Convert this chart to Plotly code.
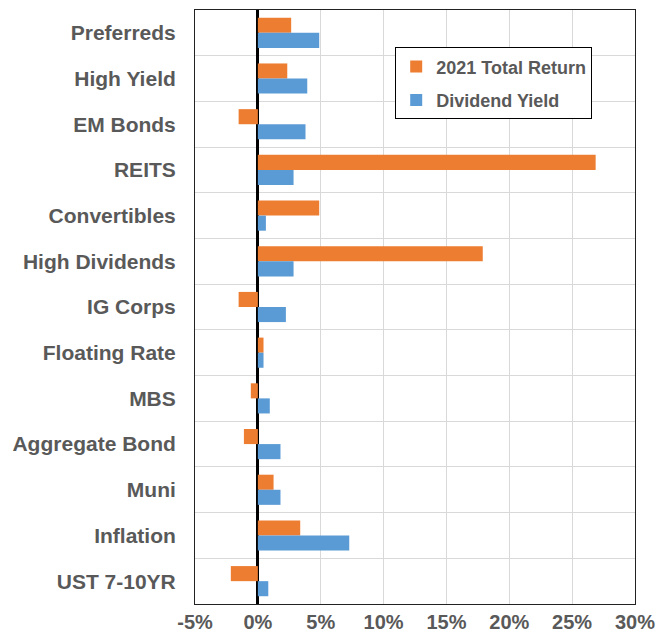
import plotly.graph_objs as go

categories = [
    'Preferreds', 'High Yield', 'EM Bonds', 'REITS', 'Convertibles',
    'High Dividends', 'IG Corps', 'Floating Rate', 'MBS', 'Aggregate Bond',
    'Muni', 'Inflation', 'UST 7-10YR',
]
total_return_2021 = [2.65, 2.34, -1.53, 26.87, 4.88, 17.89, -1.53, 0.45, -0.56, -1.11, 1.25, 3.37, -2.15]
dividend_yield = [4.88, 3.93, 3.79, 2.84, 0.64, 2.84, 2.23, 0.45, 0.95, 1.80, 1.80, 7.27, 0.83]

x_ticks = [-5, 0, 5, 10, 15, 20, 25, 30]
x_tick_labels = ['-5%', '0%', '5%', '10%', '15%', '20%', '25%', '30%']

font_family = 'Liberation Sans, Arial, sans-serif'
text_color = '#595959'

fig = go.Figure()

fig.add_trace(go.Bar(
    y=categories,
    x=total_return_2021,
    orientation='h',
    name='2021 Total Return',
    legendgroup='a',
    marker=dict(color='#ED7D31', line=dict(width=0)),
))
fig.add_trace(go.Bar(
    y=categories,
    x=dividend_yield,
    orientation='h',
    name='Dividend Yield',
    legendgroup='b',
    marker=dict(color='#5B9BD5', line=dict(width=0)),
))

# page body adds an 8px offset, so the figure is sized to the visible window
fig.update_layout(
    width=663,
    height=627,
    margin=dict(l=187, r=36, t=2, b=31, autoexpand=False),
    paper_bgcolor='white',
    plot_bgcolor='white',
    barmode='group',
    bargap=0.34,
    bargroupgap=0,
    font=dict(family=font_family, color=text_color),
    legend=dict(
        x=0.455,
        y=0.937,
        xanchor='left',
        yanchor='top',
        bordercolor='#000000',
        borderwidth=1,
        bgcolor='white',
        font=dict(size=18, color=text_color, family=font_family, weight='bold'),
        traceorder='grouped',
        tracegroupgap=7,
        itemwidth=30,
    ),
    showlegend=True,
)

fig.update_xaxes(
    range=[-5, 30],
    tickvals=x_ticks,
    ticktext=x_tick_labels,
    automargin=False,
    showgrid=True,
    gridcolor='#d9d9d9',
    gridwidth=1,
    zeroline=True,
    zerolinecolor='#000000',
    zerolinewidth=3,
    showline=True,
    linecolor='#222222',
    linewidth=1,
    mirror=True,
    ticks='',
    ticklabelstandoff=0,
    tickfont=dict(size=20, color=text_color, family=font_family, weight='bold'),
)

fig.update_yaxes(
    type='category',
    autorange='reversed',
    automargin=False,
    tickson='boundaries',
    showgrid=True,
    gridcolor='#d9d9d9',
    gridwidth=1,
    showline=True,
    linecolor='#222222',
    linewidth=1,
    mirror=True,
    ticks='',
    ticklabelstandoff=14,
    tickfont=dict(size=21, color=text_color, family=font_family, weight='bold'),
)

fig.write_html('out.html')
